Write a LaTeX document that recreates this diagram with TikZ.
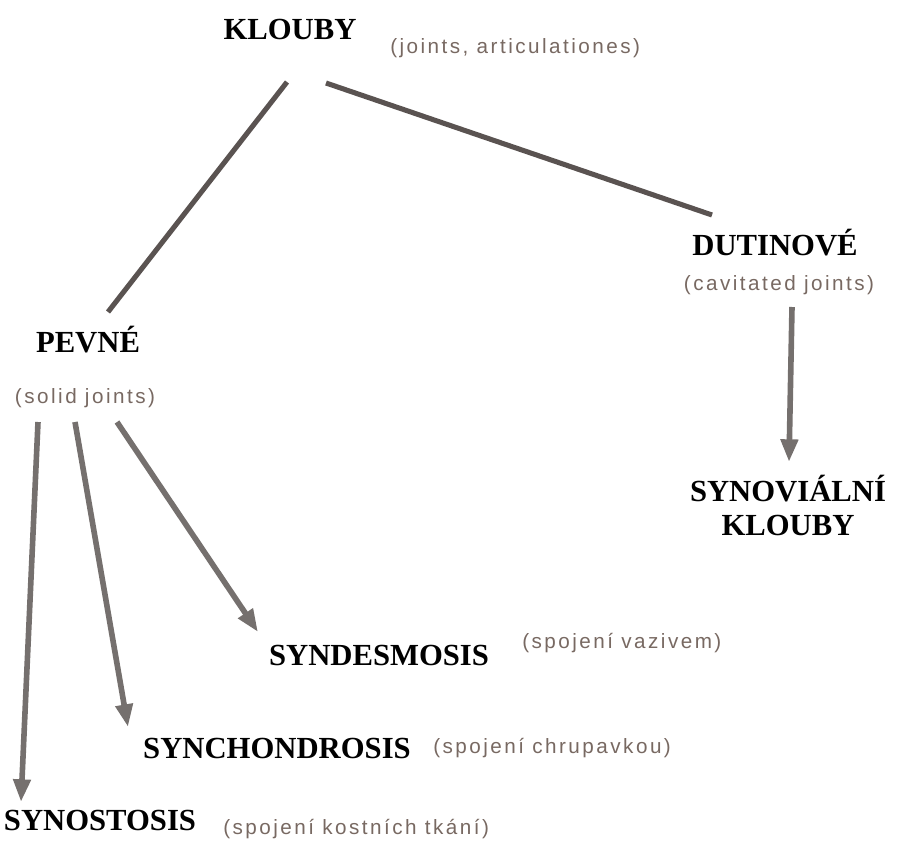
\documentclass[tikz,border=0pt]{standalone}
\usepackage{fontspec}
\setmainfont{Liberation Serif}
\newfontfamily\glossfont[LetterSpace=12]{Liberation Sans}
\usetikzlibrary{arrows.meta,calc}
\definecolor{glosscol}{HTML}{786962}
\definecolor{linegray}{HTML}{5A5351}
\definecolor{arrowgray}{HTML}{75706E}
\begin{document}
\begin{tikzpicture}[x=0.75pt,y=-0.75pt,
 title/.style={font=\bfseries\fontsize{23}{25.5}\selectfont, inner sep=0pt, anchor=base},
 gloss/.style={font=\glossfont\fontsize{15.5}{17.5}\selectfont, text=glosscol, inner sep=0pt, anchor=base west},
 link/.style={draw=linegray, line width=3.8pt},
 arr/.style={draw=arrowgray, line width=4.2pt, -{Triangle[length=17pt,width=12.5pt]}}]
\useasboundingbox (0,0) rectangle (902,845);
\fill[white] (0,0) rectangle (902,845);

\node[title] (klouby) at (290,40) {KLOUBY};
\node[gloss] (kloubyg) at (390,54) {(joints, articulationes)};
\node[title] (dutin) at (775,255) {DUTINOVÉ};
\node[gloss, anchor=base] (duting) at (779,290) {(cavitated joints)};
\node[title] (pevne) at (88,352) {PEVNÉ};
\node[gloss, anchor=base] (pevneg) at (85,403) {(solid joints)};
\node[title, anchor=north, align=center] (synov) at (788,475) {SYNOVIÁLNÍ\\KLOUBY};
\node[title] (synd) at (379,665) {SYNDESMOSIS};
\node[gloss] (syndg) at (522,648) {(spojení vazivem)};
\node[title] (sync) at (277,758) {SYNCHONDROSIS};
\node[gloss] (syncg) at (433,753) {(spojení chrupavkou)};
\node[title] (synos) at (100,830) {SYNOSTOSIS};
\node[gloss] (synosg) at (223,834) {(spojení kostních tkání)};

\draw[link] ($(klouby.base)+(-3,42)$) -- ($(pevne.base)+(20,-40)$);
\draw[link] ($(klouby.base)+(36,43)$) -- ($(dutin.base)+(-63,-40)$);
\draw[arr] ($(dutin.base)+(17,52)$) -- ($(synov.north)+(1,-13)$);
\draw[arr] ($(pevne.base)+(-50,70)$) -- ($(synos.base)+(-79,-28)$);
\draw[arr] ($(pevne.base)+(-13,70)$) -- ($(sync.base)+(-149,-31)$);
\draw[arr] ($(pevne.base)+(29,70)$) -- ($(synd.base)+(-121,-33)$);
\end{tikzpicture}
\end{document}
